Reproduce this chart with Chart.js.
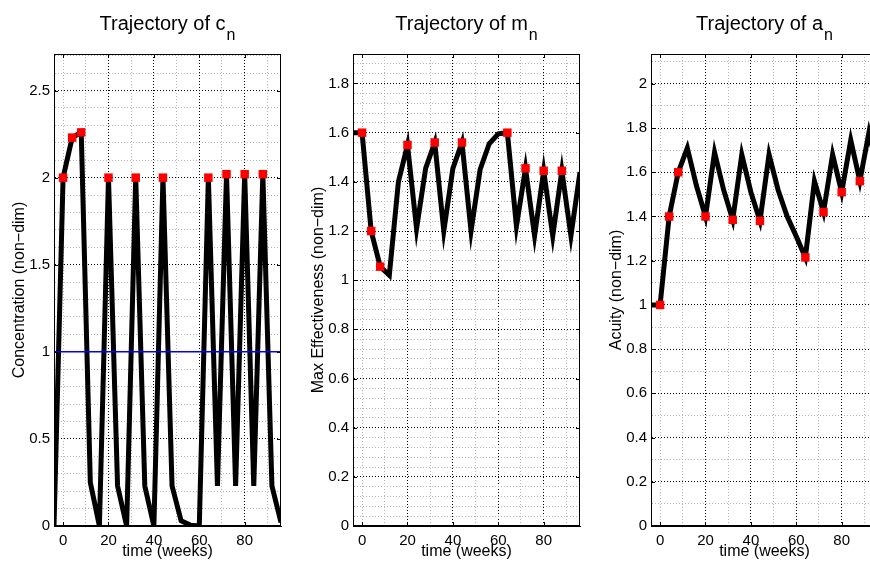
<!DOCTYPE html>
<html>
<head>
<meta charset="utf-8">
<script src="https://cdn.jsdelivr.net/npm/chart.js@4.4.1/dist/chart.umd.min.js"></script>
<style>
  html, body { margin: 0; padding: 0; background: #fff; }
  #wrap { position: relative; width: 870px; height: 561px; overflow: hidden; }
  #wrap canvas { position: absolute; top: 0; }
</style>
</head>
<body>
<div id="wrap">
  <canvas id="c1" width="300" height="561" style="left:0px"></canvas>
  <canvas id="c2" width="300" height="561" style="left:299px"></canvas>
  <canvas id="c3" width="300" height="561" style="left:597px"></canvas>
</div>
<script>
// time (weeks); first entry is the state before the first dose
const weeks = [-4, 0, 4, 8, 12, 16, 20, 24, 28, 32, 36, 40, 44, 48, 52, 56, 60, 64, 68, 72, 76, 80, 84, 88, 92, 96];

const concentration = [0, 2.0, 2.23, 2.26, 0.25, 0, 2.0, 0.23, 0, 2.0, 0.23, 0, 2.0, 0.23, 0.03, 0.005, 0, 2.0, 0.23, 2.02, 0.23, 2.02, 0.23, 2.02, 0.23, 0.02];
const effectiveness = [1.6, 1.6, 1.2, 1.055, 1.02, 1.4, 1.55, 1.21, 1.455, 1.56, 1.2, 1.455, 1.56, 1.2, 1.45, 1.555, 1.595, 1.6, 1.22, 1.455, 1.18, 1.445, 1.18, 1.445, 1.18, 1.44];
const acuity = [1.0, 1.0, 1.4, 1.6, 1.71, 1.54, 1.4, 1.69, 1.52, 1.385, 1.68, 1.51, 1.38, 1.68, 1.52, 1.4, 1.31, 1.215, 1.56, 1.42, 1.68, 1.51, 1.745, 1.56, 1.78, 1.6];

// injections (red squares)
const doseWeeks = [0, 4, 8, 20, 32, 44, 64, 72, 80, 88];
const doseConc = [2.0, 2.23, 2.26, 2.0, 2.0, 2.0, 2.0, 2.02, 2.02, 2.02];
const doseEff = [1.6, 1.2, 1.055, 1.55, 1.56, 1.56, 1.6, 1.455, 1.445, 1.445];
const doseAcuity = [1.0, 1.4, 1.6, 1.4, 1.385, 1.38, 1.215, 1.42, 1.51, 1.56];

const threshold = 1;

// axes
const xRange = [-4, 96];
const xLabelTicks = [0, 20, 40, 60, 80];
const xGridTicks = [0, 10, 20, 30, 40, 50, 60, 70, 80, 90];
const yLabels1 = [0, 0.5, 1, 1.5, 2, 2.5];
const yLabels2 = [0, 0.2, 0.4, 0.6, 0.8, 1, 1.2, 1.4, 1.6, 1.8];
const yLabels3 = [0, 0.2, 0.4, 0.6, 0.8, 1, 1.2, 1.4, 1.6, 1.8, 2];

const FONT = '"Liberation Sans", Arial, Helvetica, sans-serif';

function steps(max, step) {
  const out = [];
  for (let i = 0; i * step <= max + 1e-9; i++) out.push(Math.round(i * step * 100) / 100);
  return out;
}

function pts(xs, ys) {
  return xs.map((x, i) => ({ x: x, y: ys[i] }));
}

const framePlugin = {
  id: 'frame',
  afterDraw(chart, args, opts) {
    const { ctx, chartArea: a, scales } = chart;
    const x = scales.x, y = scales.y;
    ctx.save();
    ctx.strokeStyle = '#000';
    ctx.lineWidth = 1;
    ctx.strokeRect(a.left + 0.5, a.top + 0.5, a.right - a.left - 1, a.bottom - a.top - 1);
    const len = 4;
    ctx.beginPath();
    xLabelTicks.forEach(v => {
      const px = Math.round(x.getPixelForValue(v)) + 0.5;
      ctx.moveTo(px, a.bottom); ctx.lineTo(px, a.bottom - len);
      ctx.moveTo(px, a.top); ctx.lineTo(px, a.top + len);
    });
    opts.yMajor.forEach(v => {
      const py = Math.round(y.getPixelForValue(v)) + 0.5;
      ctx.moveTo(a.left, py); ctx.lineTo(a.left + len, py);
      ctx.moveTo(a.right, py); ctx.lineTo(a.right - len, py);
    });
    ctx.stroke();

    // title with subscript n
    ctx.fillStyle = '#000';
    ctx.textBaseline = 'alphabetic';
    ctx.textAlign = 'left';
    ctx.font = '20px ' + FONT;
    const w1 = ctx.measureText(opts.title).width;
    ctx.font = '16px ' + FONT;
    const w2 = ctx.measureText(opts.sub).width;
    const sx = (a.left + a.right) / 2 - (w1 + w2 + 1) / 2;
    ctx.font = '20px ' + FONT;
    ctx.fillText(opts.title, sx, 29.5);
    ctx.font = '16px ' + FONT;
    ctx.fillText(opts.sub, sx + w1 + 1, 40);
    ctx.restore();
  }
};

function makePanel(id, cfg) {
  const yGrid = steps(cfg.yMax, cfg.yMinor);
  const datasets = [
    {
      data: pts(doseWeeks, cfg.doses),
      showLine: false,
      pointStyle: 'rect',
      pointRadius: 6,
      pointBackgroundColor: '#ff0000',
      pointBorderWidth: 0,
      order: 0
    },
    {
      data: pts(weeks, cfg.values),
      borderColor: '#000',
      borderWidth: 5,
      pointRadius: 0,
      tension: 0,
      clip: 0,
      order: 2
    }
  ];
  if (cfg.threshold !== undefined) {
    datasets.push({
      data: pts(xRange, [cfg.threshold, cfg.threshold]),
      borderColor: '#0000ff',
      borderWidth: 1.5,
      pointRadius: 0,
      clip: 0,
      order: 1
    });
  }

  return new Chart(document.getElementById(id), {
    type: 'line',
    data: { datasets: datasets },
    options: {
      responsive: false,
      animation: false,
      layout: { padding: { top: 54, right: 19, left: 0, bottom: 0 } },
      plugins: {
        legend: { display: false },
        tooltip: { enabled: false },
        frame: { title: cfg.title, sub: 'n', yMajor: cfg.yLabels }
      },
      scales: {
        x: {
          type: 'linear',
          min: xRange[0],
          max: xRange[1],
          afterBuildTicks: s => { s.ticks = xGridTicks.map(v => ({ value: v })); },
          afterFit: s => { s.height = 35; },
          ticks: {
            autoSkip: false, maxRotation: 0, minRotation: 0, padding: 6,
            color: '#000', font: { family: FONT, size: 15 },
            callback: v => xLabelTicks.includes(v) ? String(v) : ''
          },
          grid: {
            drawTicks: false,
            lineWidth: 1,
            color: c => (c.tick && c.tick.value !== 0 && xLabelTicks.includes(c.tick.value)) ? '#000' : '#b4b4b4'
          },
          border: { display: true, color: '#000', width: 1, dash: [1, 2] },
          title: {
            display: true, text: 'time (weeks)', color: '#000',
            font: { family: FONT, size: 16 }, padding: { top: 0, bottom: 0 }
          }
        },
        y: {
          type: 'linear',
          min: 0,
          max: cfg.yMax,
          afterBuildTicks: s => { s.ticks = yGrid.map(v => ({ value: v })); },
          afterFit: s => { s.width = 54; },
          ticks: {
            autoSkip: false, padding: 4,
            color: '#000', font: { family: FONT, size: 15 },
            callback: v => cfg.yLabels.includes(v) ? String(v) : ''
          },
          grid: {
            drawTicks: false,
            lineWidth: 1,
            color: c => (c.tick && cfg.yLabels.includes(c.tick.value)) ? '#000' : '#b4b4b4'
          },
          border: { display: true, color: '#000', width: 1, dash: [1, 2] },
          title: {
            display: true, text: cfg.yTitle, color: '#000',
            font: { family: FONT, size: 16 }, padding: { top: 10, bottom: 0 }
          }
        }
      }
    },
    plugins: [framePlugin]
  });
}

makePanel('c1', {
  title: 'Trajectory of c', values: concentration, doses: doseConc, threshold: threshold,
  yMax: 2.71, yMinor: 0.1, yLabels: yLabels1, yTitle: 'Concentration (non\u2212dim)'
});
makePanel('c2', {
  title: 'Trajectory of m', values: effectiveness, doses: doseEff,
  yMax: 1.92, yMinor: 0.04, yLabels: yLabels2, yTitle: 'Max Effectiveness (non\u2212dim)'
});
makePanel('c3', {
  title: 'Trajectory of a', values: acuity, doses: doseAcuity,
  yMax: 2.135, yMinor: 0.1, yLabels: yLabels3, yTitle: 'Acuity (non\u2212dim)'
});
</script>
</body>
</html>
